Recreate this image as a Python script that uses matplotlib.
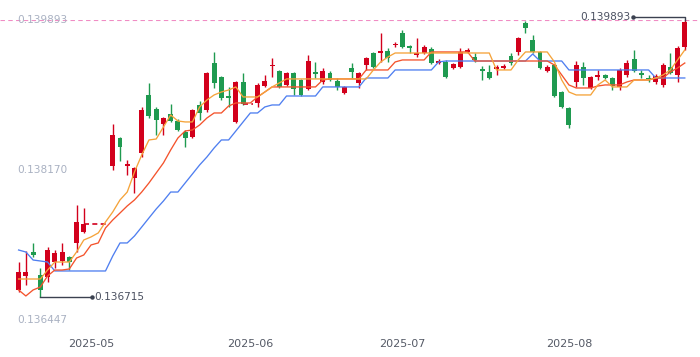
import numpy as np
import pandas as pd
import matplotlib
matplotlib.use("Agg")
import matplotlib.pyplot as plt
import matplotlib.transforms as mtransforms

nan = np.nan

# trading calendar (weekdays), holidays have no candle
dates = pd.bdate_range("2025-04-17", "2025-08-25")

# prices in units of 1e-6
open_ = [136792, 136953, 137228, 136964, 136941, 137113, 137125, 137171, 137332, 137458,
         nan, nan, nan,
         138216, 138538, 138216, 138078, 138365, 139032, 138871, 138699, 138813, 138733,
         138607, 138549, 138917, 138859, 139399, 139239, 139020, 138722, 139181,
         nan,
         138940, 139135, 139365, 139307, 139147, 139284, 139204, 139101, 139296, 139181,
         139284, 139193, 139055, 139342, 139170, 139376, 139514, 139514, 139537, 139606,
         139744, 139595, 139491, 139514, 139560, 139399, 139411, 139342, 139353, 139526,
         139468, 139330, 139296, 139330, 139342, 139480, 139526, 139859, 139664, 139526,
         139307, 139376, 139066, 138882, 139181, 139353, 139112, 139239, 139262, 139227,
         139124, 139262, 139445, 139284, 139227, 139181, 139147, 139353, 139262, 139583]
high = [137113, 137240, 137332, 137044, 137286, 137251, 137332, 137182, 137768, 137734,
        nan, nan, nan,
        138699, 138549, 138285, 138205, 138894, 139170, 138894, 138779, 138928, 138756,
        138630, 138871, 138963, 139296, 139526, 139250, 139124, 139193, 139284,
        nan,
        139170, 139262, 139457, 139319, 139296, 139296, 139216, 139491, 139411, 139342,
        139307, 139227, 139135, 139399, 139296, 139468, 139526, 139744, 139572, 139641,
        139778, 139606, 139687, 139606, 139583, 139445, 139434, 139399, 139572, 139572,
        139514, 139365, 139376, 139376, 139388, 139514, 139698, 139882, 139721, 139537,
        139376, 139388, 139078, 138894, 139422, 139411, 139250, 139319, 139273, 139239,
        139342, 139434, 139549, 139319, 139262, 139273, 139399, 139514, 139595, 139893]
low = [136769, 136849, 137171, 136715, 136884, 137044, 137079, 137021, 137228, 137447,
       nan, nan, nan,
       138170, 138274, 138113, 137906, 138319, 138767, 138572, 138572, 138722, 138618,
       138434, 138538, 138745, 138836, 139112, 138974, 138894, 138710, 138917,
       nan,
       138894, 139124, 139239, 139112, 139135, 139032, 139020, 139089, 139227, 139158,
       139193, 139089, 139043, 139227, 139112, 139319, 139342, 139411, 139411, 139583,
       139572, 139514, 139468, 139503, 139388, 139388, 139227, 139330, 139342, 139514,
       139411, 139204, 139216, 139262, 139330, 139376, 139491, 139744, 139514, 139330,
       139296, 139009, 138882, 138653, 139124, 139147, 139101, 139204, 139216, 139089,
       139089, 139239, 139296, 139227, 139181, 139158, 139124, 139273, 139181, 139549]
close = [136998, 136998, 137194, 136792, 137251, 137217, 137228, 137113, 137573, 137550,
         nan, nan, nan,
         138572, 138434, 138239, 138193, 138859, 138790, 138745, 138767, 138733, 138630,
         138538, 138859, 138825, 139284, 139170, 138997, 138997, 139181, 138928,
         nan,
         139147, 139193, 139376, 139124, 139284, 139101, 139032, 139422, 139273, 139307,
         139204, 139124, 139124, 139296, 139284, 139457, 139353, 139537, 139457, 139618,
         139583, 139572, 139514, 139583, 139399, 139422, 139239, 139388, 139526, 139549,
         139434, 139307, 139227, 139353, 139365, 139399, 139687, 139801, 139526, 139342,
         139353, 139020, 138894, 138687, 139376, 139227, 139239, 139262, 139227, 139135,
         139319, 139399, 139307, 139262, 139216, 139250, 139376, 139284, 139572, 139870]

# indicator lines (units of 1e-6)
line_fast = [136918, 136918, 136918, 136918, 137021, 137113, 137113, 137113, 137228, 137366,
             137401, 137447, 137573, 137688, 137826, 137917, 138147, 138342, 138515, 138526,
             138664, 138802, 138733, 138722, 138722, 138894, 138974, 139032, 139066, 139089,
             139124, 139009, 139009, 139009, 139066, 139124, 139170, 139216, 139216, 139216,
             139216, 139216, 139216, 139216, 139216, 139216, 139216, 139216, 139216, 139319,
             139411, 139468, 139514, 139514, 139514, 139514, 139514, 139514, 139514, 139514,
             139514, 139514, 139514, 139514, 139514, 139514, 139319, 139319, 139319, 139434,
             139526, 139526, 139526, 139526, 139411, 139204, 139066, 139032, 139032, 139032,
             139147, 139204, 139124, 139124, 139124, 139204, 139204, 139204, 139227, 139262,
             139319, 139434, 139549]
line_mid = [136792, 136723, 136792, 136826, 136953, 137021, 137021, 137033, 137159, 137194,
            137309, 137332, 137504, 137596, 137676, 137757, 137826, 137917, 138021, 138136,
            138251, 138400, 138538, 138618, 138630, 138687, 138767, 138825, 138825, 138905,
            138940, 138940, 138940, 139009, 139066, 139124, 139124, 139124, 139124, 139124,
            139124, 139124, 139204, 139216, 139216, 139216, 139216, 139216, 139319, 139319,
            139319, 139319, 139411, 139434, 139434, 139434, 139434, 139526, 139526, 139526,
            139526, 139526, 139526, 139422, 139422, 139422, 139422, 139422, 139422, 139422,
            139422, 139422, 139422, 139422, 139376, 139262, 139147, 139112, 139112, 139112,
            139135, 139147, 139147, 139147, 139181, 139204, 139204, 139204, 139227, 139227,
            139296, 139342, 139399]
line_slow = [137251, 137228, 137136, 137125, 137113, 137010, 137010, 137010, 137010, 137010,
             137010, 137010, 137010, 137182, 137332, 137332, 137412, 137515, 137619, 137722,
             137814, 137917, 137917, 138021, 138124, 138228, 138319, 138423, 138515, 138515,
             138618, 138722, 138825, 138825, 138894, 138917, 138917, 139020, 139020, 139020,
             139020, 139020, 139124, 139124, 139124, 139124, 139124, 139124, 139227, 139227,
             139227, 139227, 139319, 139319, 139319, 139319, 139319, 139319, 139411, 139422,
             139422, 139422, 139422, 139422, 139422, 139422, 139422, 139422, 139422, 139422,
             139422, 139503, 139422, 139422, 139422, 139422, 139319, 139319, 139319, 139319,
             139319, 139319, 139319, 139319, 139319, 139319, 139319, 139319, 139227, 139227,
             139227, 139227, 139227]

y_ticks = [0.136447, 0.138170, 0.139893]

scale = 1e-6
o = np.array(open_) * scale
h = np.array(high) * scale
l = np.array(low) * scale
c = np.array(close) * scale
fast = np.array(line_fast) * scale
mid = np.array(line_mid) * scale
slow = np.array(line_slow) * scale
x = np.arange(len(dates))

RED = "#d2001c"
GREEN = "#1f9a50"

fig = plt.figure(figsize=(7, 3.57), dpi=100)
ax = fig.add_axes([0, 1 - 320 / 357, 1, 300 / 357])
ax.set_xlim(-2.57, 94.1)
ax.set_ylim(y_ticks[0], y_ticks[-1])
for s in ax.spines.values():
    s.set_visible(False)

valid = ~np.isnan(c)
up = valid & (c >= o)
down = valid & (c < o)
min_body = 0.000008
for mask, col in ((up, RED), (down, GREEN)):
    ax.vlines(x[mask], l[mask], h[mask], color=col, lw=1, zorder=2)
    bottom = np.minimum(o[mask], c[mask])
    height = np.maximum(np.abs(c[mask] - o[mask]), min_body)
    ax.bar(x[mask], height, bottom=bottom, width=0.68, color=col, lw=0, zorder=3)

# dashed links across holiday gaps
gap = np.where(~valid)[0]
for start in gap:
    if valid[start - 1]:
        end = start
        while end < len(x) and not valid[end]:
            end += 1
        ax.plot([start - 1, end - 0.6], [c[start - 1]] * 2, color=RED, ls=(0, (3, 2)),
                lw=1.2, zorder=2)

ax.plot(x, slow, color="#4f7ff0", lw=0.95, zorder=4)
ax.plot(x, mid, color="#f4532c", lw=0.95, zorder=4)
ax.plot(x, fast, color="#f5a33a", lw=0.95, zorder=4)

# max price line
ax.axhline(y_ticks[-1], color="#f08cc4", ls=(0, (4, 3)), lw=0.8, zorder=1)

# y labels inside the plot
trans = mtransforms.blended_transform_factory(ax.transAxes, ax.transData)
for v in y_ticks:
    ax.text(17 / 700, v, f"{v:.6f}", transform=trans, ha="left", va="center",
            fontsize=7.6, color="#a9b1c2")

# high / low markers
i_hi = int(np.nanargmax(h))
i_lo = int(np.nanargmin(l))
y_hi = h[i_hi] + 0.00003
ax.plot([i_hi - 7.2, i_hi, i_hi], [y_hi, y_hi, h[i_hi]], color="#3b4150", lw=1,
        clip_on=False, zorder=5)
ax.plot(i_hi - 7.2, y_hi, "o", ms=2.2, color="#3b4150", clip_on=False, zorder=5)
ax.text(i_hi - 7.5, y_hi, f"{h[i_hi]:.6f}", ha="right", va="center", fontsize=7.6,
        color="#4a5060", clip_on=False)
ax.plot([i_lo, i_lo + 7.2], [l[i_lo]] * 2, color="#3b4150", lw=1, zorder=5)
ax.plot(i_lo + 7.2, l[i_lo], "o", ms=2.2, color="#3b4150", zorder=5)
ax.text(i_lo + 7.5, l[i_lo], f"{l[i_lo]:.6f}", ha="left", va="center", fontsize=7.6,
        color="#4a5060")

# month ticks at first trading slot of each month
months = dates.to_period("M")
tick_idx = [i for i in range(1, len(dates)) if months[i] != months[i - 1]]
ax.set_xticks(tick_idx)
ax.set_xticklabels([dates[i].strftime("%Y-%m") for i in tick_idx], fontsize=8,
                   color="#555a66")
ax.tick_params(axis="x", length=0, pad=14)
ax.set_yticks([])

fig.savefig("out.png", dpi=100)
